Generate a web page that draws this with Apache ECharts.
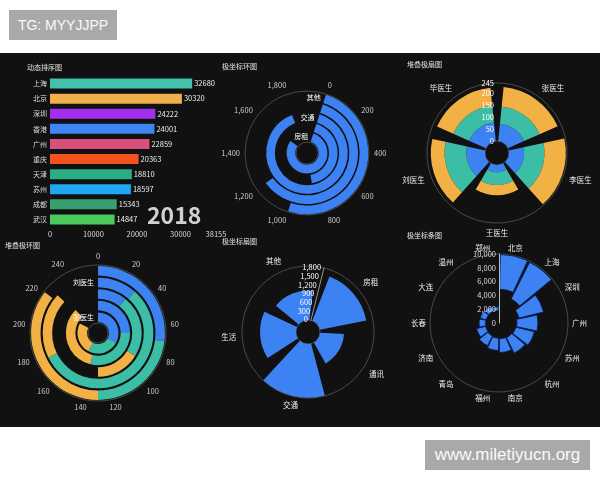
<!DOCTYPE html>
<html><head><meta charset="utf-8">
<script src="https://cdn.jsdelivr.net/npm/echarts@6/dist/echarts.min.js"></script>
<style>
html,body{margin:0;padding:0;background:#fff;width:600px;height:480px;overflow:hidden;}
#panel{position:absolute;left:0;top:53px;width:600px;height:374px;background:#111;}
#chart{position:absolute;left:0;top:0;width:600px;height:480px;}
.tag{position:absolute;background:#a9a9a9;color:#fafafa;text-align:center;height:30px;line-height:30px;white-space:nowrap;font-family:'Liberation Sans',sans-serif;}
</style></head><body>
<div id="panel"></div>
<div id="chart"></div>
<div class="tag" style="left:9px;top:10px;width:108px;font-size:14px;">TG: MYYJJPP</div>
<div class="tag" style="left:425px;top:440px;width:165px;font-size:17px;">www.miletiyucn.org</div>
<script>
// ---- data ----
const rankCities = ['上海','北京','深圳','香港','广州','重庆','天津','苏州','成都','武汉'];
const rankValues = [32680,30320,24222,24001,22859,20363,18810,18597,15343,14847];
const rankYear = '2018';
const rankAxisMax = 38155;

const expenseCats = ['房租','通讯','交通','生活','其他'];
const expenseRing = [1600, 850, 1780, 1200, 1000];
const expenseFan = [1580, 800, 1790, 1200, 980];

const doctors = ['张医生','李医生','王医生','刘医生','毕医生'];
const fanBlue = [74, 64, 30, 79, 79];
const fanTeal = [72, 86, 55, 92, 72];
const fanOrange = [83, 90, 43, 58, 75];

const ringBlue = [85, 65, 28, 30, 70];
const ringTeal = [65, 75, 60, 146, 60];
const ringOrange = [65, 88, 42, 50, 92];

const polarCities = ['北京','上海','深圳','广州','苏州','杭州','南京','福州','青岛','济南','长春','大连','温州','郑州'];
const cityStart = [4900, 3900, 3000, 2600, 2500, 2400, 2300, 2200, 2100, 2000, 1950, 1900, 1900, 1800];
const cityLength = [5050, 5950, 3650, 3050, 2800, 2500, 2000, 1800, 1600, 1350, 950, 900, 750, 550];

// ---- styles ----
const FONT = "'Noto Sans CJK SC','Noto Sans',sans-serif";
const BLUE = '#3d82f2', TEAL = '#3cbea6', ORANGE = '#f2b144';
const rankColors = ['#43c1ad','#f1b04b','#a22ef0','#3f85f4','#d84f7c','#f4521c','#27ae84','#1ea8f3','#379f70','#4dc95b'];
const titles = [
  {text:'动态排序图', left:27, top:64},
  {text:'极坐标环图', left:222, top:63},
  {text:'堆叠极扇图', left:407, top:61},
  {text:'堆叠极环图', left:5, top:242},
  {text:'极坐标扇图', left:222, top:238},
  {text:'极坐标条图', left:407, top:232}
];
const noLine = {show:false};
const circle = {show:true, lineStyle:{color:'#4a4a4a', width:1}};
const lab = (size, color, extra) => Object.assign({fontSize:size, color:color, fontFamily:FONT}, extra || {});

const chart = echarts.init(document.getElementById('chart'), null, {renderer:'canvas'});
const option = {
  backgroundColor:'transparent',
  animation:false,
  textStyle:{fontFamily:FONT},
  title: titles.map(t => ({text:t.text, left:t.left, top:t.top, padding:0,
    textStyle:{color:'#e6e6e6', fontSize:7, fontWeight:'normal', fontFamily:FONT}})),
  grid:{left:50, top:76, width:166, height:151},
  xAxis:{type:'value', min:0, max:rankAxisMax, interval:10000, splitLine:noLine, axisLine:noLine, axisTick:noLine,
    axisLabel:lab(7.5,'#ddd',{margin:3, showMaxLabel:true, formatter:v => String(v)})},
  yAxis:{type:'category', data:rankCities, inverse:true, axisLine:noLine, axisTick:noLine,
    axisLabel:lab(7,'#ddd',{margin:3})},
  polar:[
    {center:[307,153], radius:[11,62]},
    {center:[497,153], radius:[12,70]},
    {center:[98,333], radius:[10,68]},
    {center:[308,332], radius:[12,66]},
    {center:[499,323], radius:[0,69]}
  ],
  angleAxis:[
    {polarIndex:0, type:'value', min:0, max:2000, interval:200, startAngle:72, axisLine:circle, axisTick:noLine, splitLine:noLine,
      axisLabel:lab(7.5,'#ccc',{margin:5})},
    {polarIndex:1, type:'category', data:doctors, startAngle:90, axisLine:circle, axisTick:noLine, splitLine:noLine,
      axisLabel:lab(7.5,'#eee',{margin:6})},
    {polarIndex:2, type:'value', min:0, max:260, interval:20, startAngle:90, axisLine:circle, axisTick:noLine, splitLine:noLine,
      axisLabel:lab(7.5,'#ccc',{margin:5})},
    {polarIndex:3, type:'category', data:expenseCats, startAngle:76, axisLine:circle, axisTick:noLine, splitLine:noLine,
      axisLabel:lab(7.5,'#eee',{margin:6})},
    {polarIndex:4, type:'category', data:polarCities, startAngle:90, axisLine:circle, axisTick:noLine, splitLine:noLine,
      axisLabel:lab(7.5,'#eee',{margin:4})}
  ],
  radiusAxis:[
    {polarIndex:0, type:'category', data:expenseCats, z:10, axisLine:noLine, axisTick:noLine,
      axisLabel:lab(7,'#fff',{interval:1, margin:4})},
    {polarIndex:1, type:'value', min:0, max:245, interval:50, z:10, axisLine:noLine, axisTick:noLine, splitLine:noLine,
      axisLabel:lab(7.5,'#fff',{margin:3, showMaxLabel:true})},
    {polarIndex:2, type:'category', data:doctors, z:10, axisLine:noLine, axisTick:noLine,
      axisLabel:lab(7,'#fff',{interval:2, margin:4})},
    {polarIndex:3, type:'value', min:0, max:1800, interval:300, z:10, axisLine:{show:true, lineStyle:{color:'#999', width:1}}, axisTick:noLine, splitLine:noLine,
      axisLabel:lab(7.5,'#fff',{margin:3})},
    {polarIndex:4, type:'value', min:0, max:10000, interval:2000, z:10, axisLine:{show:true, lineStyle:{color:'#bbb', width:1}}, axisTick:noLine, splitLine:noLine,
      axisLabel:lab(7.5,'#ddd',{margin:3})}
  ],
  series:[
    {type:'bar', xAxisIndex:0, yAxisIndex:0, barWidth:10,
      data:rankValues.map((v,i) => ({value:v, itemStyle:{color:rankColors[i]}})),
      label:{show:true, position:'right', distance:2, color:'#eee', fontSize:7.5, fontFamily:FONT}},
    {type:'bar', coordinateSystem:'polar', polarIndex:0, data:expenseRing, barCategoryGap:'15%', itemStyle:{color:BLUE}},
    {type:'bar', coordinateSystem:'polar', polarIndex:1, stack:'fan', data:fanBlue, barCategoryGap:'16%', itemStyle:{color:BLUE}},
    {type:'bar', coordinateSystem:'polar', polarIndex:1, stack:'fan', data:fanTeal, barCategoryGap:'16%', itemStyle:{color:TEAL}},
    {type:'bar', coordinateSystem:'polar', polarIndex:1, stack:'fan', data:fanOrange, barCategoryGap:'16%', itemStyle:{color:ORANGE}},
    {type:'bar', coordinateSystem:'polar', polarIndex:2, stack:'ring', data:ringBlue, barCategoryGap:'18%', itemStyle:{color:BLUE}},
    {type:'bar', coordinateSystem:'polar', polarIndex:2, stack:'ring', data:ringTeal, barCategoryGap:'18%', itemStyle:{color:TEAL}},
    {type:'bar', coordinateSystem:'polar', polarIndex:2, stack:'ring', data:ringOrange, barCategoryGap:'18%', itemStyle:{color:ORANGE}},
    {type:'bar', coordinateSystem:'polar', polarIndex:3, data:expenseFan, barCategoryGap:'20%', itemStyle:{color:BLUE}},
    {type:'bar', coordinateSystem:'polar', polarIndex:4, stack:'city', data:cityStart, barCategoryGap:'8%', itemStyle:{color:'rgba(0,0,0,0)'}},
    {type:'bar', coordinateSystem:'polar', polarIndex:4, stack:'city', data:cityLength, barCategoryGap:'8%',
      itemStyle:{color:BLUE, borderColor:'#0c1f4f', borderWidth:1}}
  ],
  graphic:[
    {type:'text', x:147, y:215, style:{text:rankYear, font:'bold 23px ' + FONT, fill:'#d0d0d0', verticalAlign:'middle'}}
  ]
};
chart.setOption(option);
</script>
</body></html>
